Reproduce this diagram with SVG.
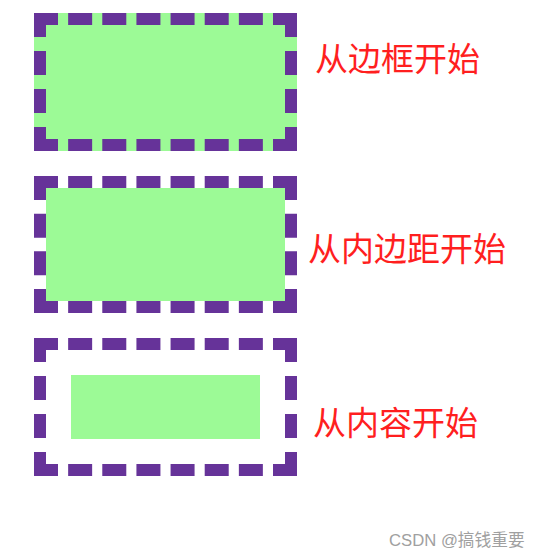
<svg xmlns="http://www.w3.org/2000/svg" width="541" height="559" viewBox="0 0 541 559">
<style>
.bg{fill:#9cfa96}
.h{stroke:#663399;stroke-width:12;fill:none;stroke-dasharray:24 10.142857}
.v{stroke:#663399;stroke-width:12;fill:none;stroke-dasharray:24 14}
.lbl{font-family:"Noto Sans CJK SC","Noto Sans",sans-serif;font-size:33px;fill:#ff1f1f}
.wm{font-family:"Liberation Sans","Noto Sans CJK SC",sans-serif;font-size:16.7px;fill:#a0a0a0}
</style>
<rect width="541" height="559" fill="#fff"/>
<g id="box-border">
<rect class="bg" x="34" y="13" width="263" height="138"/>
<line class="h" x1="34" y1="19" x2="297" y2="19"/>
<line class="h" x1="34" y1="145" x2="297" y2="145"/>
<line class="v" x1="40" y1="13" x2="40" y2="151"/>
<line class="v" x1="291" y1="13" x2="291" y2="151"/>
</g>
<g id="box-padding">
<rect class="bg" x="46" y="188" width="239" height="113"/>
<line class="h" x1="34" y1="182" x2="297" y2="182"/>
<line class="h" x1="34" y1="307" x2="297" y2="307"/>
<line class="v" x1="40" y1="176" x2="40" y2="313" style="stroke-dasharray:24 13.67"/>
<line class="v" x1="291" y1="176" x2="291" y2="313" style="stroke-dasharray:24 13.67"/>
</g>
<g id="box-content">
<rect class="bg" x="71" y="375" width="189" height="64"/>
<line class="h" x1="34" y1="344" x2="297" y2="344"/>
<line class="h" x1="34" y1="470" x2="297" y2="470"/>
<line class="v" x1="40" y1="338" x2="40" y2="476"/>
<line class="v" x1="291" y1="338" x2="291" y2="476"/>
</g>
<g id="labels">
<text class="lbl" x="315" y="71">从边框开始</text>
<text class="lbl" x="308" y="261">从内边距开始</text>
<text class="lbl" x="313" y="435">从内容开始</text>
<text class="wm" x="389" y="546">CSDN @搞钱重要</text>
</g>
</svg>
